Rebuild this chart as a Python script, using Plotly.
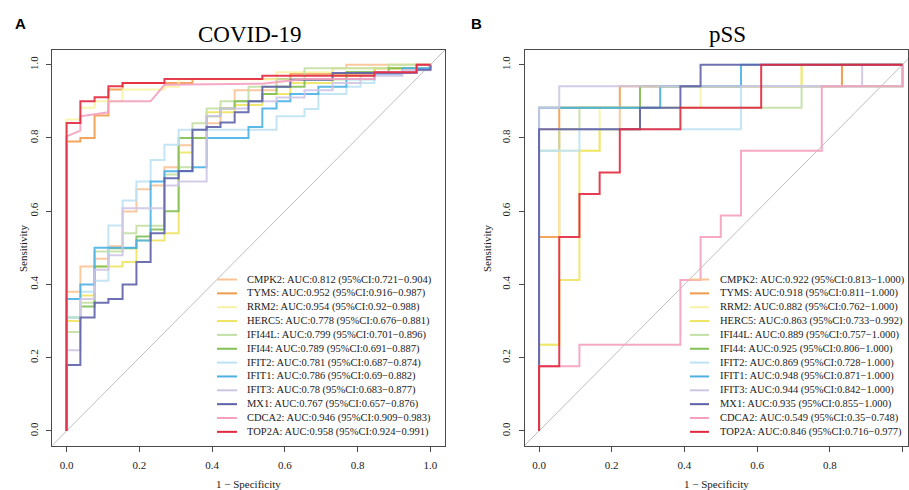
import plotly.graph_objects as go

# ---------------- data ----------------
genes = ["CMPK2", "TYMS", "RRM2", "HERC5", "IFI44L", "IFI44",
         "IFIT2", "IFIT1", "IFIT3", "MX1", "CDCA2", "TOP2A"]
colors = ["#F9C396", "#F29B4C", "#F7F3A6", "#EEE463", "#C4DFA4", "#82C057",
          "#BCE2F3", "#4BB1E5", "#CEC5E4", "#5E62A8", "#F4A0BE", "#E2283F"]

auc_covid = ["AUC:0.812 (95%CI:0.721\u22120.904)", "AUC:0.952 (95%CI:0.916\u22120.987)",
             "AUC:0.954 (95%CI:0.92\u22120.988)", "AUC:0.778 (95%CI:0.676\u22120.881)",
             "AUC:0.799 (95%CI:0.701\u22120.896)", "AUC:0.789 (95%CI:0.691\u22120.887)",
             "AUC:0.781 (95%CI:0.687\u22120.874)", "AUC:0.786 (95%CI:0.69\u22120.882)",
             "AUC:0.78 (95%CI:0.683\u22120.877)", "AUC:0.767 (95%CI:0.657\u22120.876)",
             "AUC:0.946 (95%CI:0.909\u22120.983)", "AUC:0.958 (95%CI:0.924\u22120.991)"]
auc_pss = ["AUC:0.922 (95%CI:0.813\u22121.000)", "AUC:0.918 (95%CI:0.811\u22121.000)",
           "AUC:0.882 (95%CI:0.762\u22121.000)", "AUC:0.863 (95%CI:0.733\u22120.992)",
           "AUC:0.889 (95%CI:0.757\u22121.000)", "AUC:0.925 (95%CI:0.806\u22121.000)",
           "AUC:0.869 (95%CI:0.728\u22121.000)", "AUC:0.948 (95%CI:0.871\u22121.000)",
           "AUC:0.944 (95%CI:0.842\u22121.000)", "AUC:0.935 (95%CI:0.855\u22121.000)",
           "AUC:0.549 (95%CI:0.35\u22120.748)", "AUC:0.846 (95%CI:0.716\u22120.977)"]

tick_vals = [0, 0.2, 0.4, 0.6, 0.8, 1.0]
tick_text = ["0.0", "0.2", "0.4", "0.6", "0.8", "1.0"]

# COVID-19 ROC points (1-specificity, sensitivity); step curves
covid_CMPK2_fpr = [0, 0.038, 0.077, 0.115, 0.154, 0.192, 0.231, 0.269, 0.308, 0.346, 0.385, 0.423, 0.462, 0.577, 0.731, 0.769, 1]
covid_CMPK2_tpr = [0, 0.38, 0.449, 0.47, 0.504, 0.599, 0.66, 0.67, 0.72, 0.78, 0.80, 0.84, 0.88, 0.93, 0.96, 0.99, 1]
covid_TYMS_fpr = [0, 0.038, 0.077, 0.115, 0.154, 0.346, 0.615, 0.846, 0.962, 1]
covid_TYMS_tpr = [0, 0.79, 0.80, 0.861, 0.932, 0.95, 0.961, 0.975, 0.99, 1]
covid_RRM2_fpr = [0, 0.038, 0.077, 0.154, 0.269, 0.308, 0.577, 0.731, 0.885, 1]
covid_RRM2_tpr = [0, 0.85, 0.882, 0.90, 0.932, 0.94, 0.96, 0.979, 0.99, 1]
covid_HERC5_fpr = [0, 0.038, 0.077, 0.154, 0.192, 0.269, 0.308, 0.346, 0.385, 0.462, 0.538, 0.615, 0.731, 0.846, 1, 1]
covid_HERC5_tpr = [0, 0.30, 0.37, 0.449, 0.461, 0.52, 0.54, 0.76, 0.80, 0.87, 0.89, 0.92, 0.95, 0.97, 0.99, 1]
covid_IFI44L_fpr = [0, 0.038, 0.077, 0.154, 0.192, 0.269, 0.308, 0.346, 0.385, 0.423, 0.5, 0.577, 0.654, 0.885, 1]
covid_IFI44L_tpr = [0, 0.27, 0.35, 0.49, 0.54, 0.56, 0.70, 0.72, 0.84, 0.88, 0.90, 0.94, 0.96, 0.99, 1]
covid_IFI44_fpr = [0, 0.038, 0.077, 0.115, 0.192, 0.231, 0.269, 0.308, 0.385, 0.423, 0.462, 0.538, 0.577, 0.654, 0.769, 0.885, 1, 1]
covid_IFI44_tpr = [0, 0.31, 0.34, 0.449, 0.499, 0.531, 0.55, 0.60, 0.80, 0.859, 0.88, 0.90, 0.92, 0.94, 0.96, 0.98, 0.99, 1]
covid_IFIT2_fpr = [0, 0.038, 0.077, 0.115, 0.154, 0.192, 0.231, 0.269, 0.308, 0.577, 0.654, 0.692, 0.769, 0.808, 0.846, 0.962, 1, 1]
covid_IFIT2_tpr = [0, 0.31, 0.38, 0.41, 0.561, 0.629, 0.681, 0.74, 0.781, 0.822, 0.859, 0.879, 0.92, 0.94, 0.95, 0.98, 0.99, 1]
covid_IFIT1_fpr = [0, 0.038, 0.077, 0.192, 0.231, 0.269, 0.346, 0.385, 0.5, 0.538, 0.577, 0.615, 0.692, 0.769, 0.846, 0.923, 1, 1]
covid_IFIT1_tpr = [0, 0.36, 0.40, 0.50, 0.52, 0.681, 0.709, 0.72, 0.80, 0.83, 0.88, 0.90, 0.92, 0.94, 0.96, 0.975, 0.99, 1]
covid_IFIT3_fpr = [0, 0.038, 0.077, 0.115, 0.154, 0.269, 0.308, 0.385, 0.423, 0.5, 0.577, 0.654, 0.731, 0.808, 0.923, 1, 1]
covid_IFIT3_tpr = [0, 0.22, 0.36, 0.44, 0.48, 0.608, 0.67, 0.681, 0.86, 0.88, 0.90, 0.91, 0.93, 0.95, 0.97, 0.985, 1]
covid_MX1_fpr = [0, 0.038, 0.077, 0.115, 0.154, 0.192, 0.231, 0.269, 0.308, 0.346, 0.385, 0.423, 0.462, 0.5, 0.538, 0.615, 0.731, 0.962, 1, 1]
covid_MX1_tpr = [0, 0.18, 0.31, 0.35, 0.36, 0.40, 0.461, 0.54, 0.69, 0.71, 0.822, 0.83, 0.842, 0.87, 0.90, 0.94, 0.959, 0.977, 0.986, 1]
# CDCA2 has tied values -> drawn as polyline through its ROC vertices
covid_CDCA2_fpr = [0, 0, 0.038, 0.038, 0.115, 0.115, 0.231, 0.269, 0.538, 0.654, 0.846, 0.846, 0.962, 0.962, 1]
covid_CDCA2_tpr = [0, 0.804, 0.82, 0.859, 0.87, 0.90, 0.90, 0.945, 0.948, 0.961, 0.961, 0.979, 0.979, 1, 1]
covid_TOP2A_fpr = [0, 0.038, 0.077, 0.115, 0.154, 0.269, 0.538, 0.846, 0.962, 1]
covid_TOP2A_tpr = [0, 0.841, 0.90, 0.911, 0.941, 0.95, 0.961, 0.97, 0.979, 1]

# pSS ROC points (18 controls, 17 cases)
pss_CMPK2_fpr = [0, 0.2222, 0.2778, 0.8333, 1]
pss_CMPK2_tpr = [0, 0.8235, 0.8824, 0.9412, 1]
pss_TYMS_fpr = [0, 0.0556, 0.2222, 0.8333, 1]
pss_TYMS_tpr = [0, 0.5294, 0.8824, 0.9412, 1]
pss_RRM2_fpr = [0, 0.0556, 0.1667, 0.4444, 0.7222, 1]
pss_RRM2_tpr = [0, 0.2353, 0.7647, 0.8824, 0.9412, 1]
pss_HERC5_fpr = [0, 0.0556, 0.1111, 0.1667, 0.2778, 0.3333, 0.7222, 1]
pss_HERC5_tpr = [0, 0.2353, 0.4118, 0.7647, 0.8235, 0.8824, 0.9412, 1]
pss_IFI44L_fpr = [0, 0.0556, 0.1111, 0.7222, 1, 1]
pss_IFI44L_tpr = [0, 0.7647, 0.8235, 0.8824, 0.9412, 1]
pss_IFI44_fpr = [0, 0.2778, 1, 1]
pss_IFI44_tpr = [0, 0.8824, 0.9412, 1]
pss_IFIT2_fpr = [0, 0.1111, 0.5556, 1, 1]
pss_IFIT2_tpr = [0, 0.7647, 0.8235, 0.9412, 1]
pss_IFIT1_fpr = [0, 0.3333, 0.5556, 1]
pss_IFIT1_tpr = [0, 0.8824, 0.9412, 1]
pss_IFIT3_fpr = [0, 0.0556, 0.8889, 1]
pss_IFIT3_tpr = [0, 0.8824, 0.9412, 1]
pss_MX1_fpr = [0, 0.2778, 0.3889, 0.4444, 1]
pss_MX1_tpr = [0, 0.8235, 0.8824, 0.9412, 1]
pss_CDCA2_fpr = [0, 0.1111, 0.3889, 0.4444, 0.5, 0.5556, 0.7778, 1, 1]
pss_CDCA2_tpr = [0, 0.1765, 0.2353, 0.4118, 0.5294, 0.5882, 0.7647, 0.9412, 1]
pss_TOP2A_fpr = [0, 0.0556, 0.1111, 0.1667, 0.2222, 0.3889, 0.6111, 1]
pss_TOP2A_tpr = [0, 0.1765, 0.5294, 0.6471, 0.7059, 0.8235, 0.8824, 1]

covid_curves = {
    "CMPK2": (covid_CMPK2_fpr, covid_CMPK2_tpr), "TYMS": (covid_TYMS_fpr, covid_TYMS_tpr),
    "RRM2": (covid_RRM2_fpr, covid_RRM2_tpr), "HERC5": (covid_HERC5_fpr, covid_HERC5_tpr),
    "IFI44L": (covid_IFI44L_fpr, covid_IFI44L_tpr), "IFI44": (covid_IFI44_fpr, covid_IFI44_tpr),
    "IFIT2": (covid_IFIT2_fpr, covid_IFIT2_tpr), "IFIT1": (covid_IFIT1_fpr, covid_IFIT1_tpr),
    "IFIT3": (covid_IFIT3_fpr, covid_IFIT3_tpr), "MX1": (covid_MX1_fpr, covid_MX1_tpr),
    "CDCA2": (covid_CDCA2_fpr, covid_CDCA2_tpr), "TOP2A": (covid_TOP2A_fpr, covid_TOP2A_tpr),
}
pss_curves = {
    "CMPK2": (pss_CMPK2_fpr, pss_CMPK2_tpr), "TYMS": (pss_TYMS_fpr, pss_TYMS_tpr),
    "RRM2": (pss_RRM2_fpr, pss_RRM2_tpr), "HERC5": (pss_HERC5_fpr, pss_HERC5_tpr),
    "IFI44L": (pss_IFI44L_fpr, pss_IFI44L_tpr), "IFI44": (pss_IFI44_fpr, pss_IFI44_tpr),
    "IFIT2": (pss_IFIT2_fpr, pss_IFIT2_tpr), "IFIT1": (pss_IFIT1_fpr, pss_IFIT1_tpr),
    "IFIT3": (pss_IFIT3_fpr, pss_IFIT3_tpr), "MX1": (pss_MX1_fpr, pss_MX1_tpr),
    "CDCA2": (pss_CDCA2_fpr, pss_CDCA2_tpr), "TOP2A": (pss_TOP2A_fpr, pss_TOP2A_tpr),
}

# ---------------- layout geometry ----------------
W, H = 909, 490
SERIF = "Liberation Serif, Times New Roman, serif"
SANS = "Liberation Sans, Arial, sans-serif"
TXT = "#1a1a1a"
AX = "#4a4a4a"


def fx(px):
    return px / W


def fy(py):
    return 1 - py / H


fig = go.Figure()

for panel, curves, xa, ya in [("covid", covid_curves, "x", "y"), ("pss", pss_curves, "x2", "y2")]:
    for g, c in zip(genes, colors):
        xs, ys = curves[g]
        shape = "linear" if (panel == "covid" and g == "CDCA2") else "vh"
        fig.add_trace(go.Scatter(x=xs, y=ys, mode="lines", xaxis=xa, yaxis=ya,
                                 line=dict(color=c, width=2, shape=shape),
                                 opacity=0.9, showlegend=False, hoverinfo="skip"))

axis_common = dict(showgrid=False, zeroline=False, showline=True, mirror=True,
                   linecolor=AX, linewidth=1, ticks="outside", ticklen=5,
                   tickcolor=AX, tickwidth=1, tickvals=tick_vals, ticktext=tick_text,
                   tickfont=dict(family=SERIF, size=11, color=TXT), automargin=False)

yA = [fy(445.6), fy(50)]
fig.update_layout(
    width=W, height=H, margin=dict(l=0, r=0, t=0, b=0, pad=0),
    paper_bgcolor="white", plot_bgcolor="white", showlegend=False,
    xaxis=dict(domain=[fx(52), fx(445)], range=[-0.04, 1.04], anchor="y",
               ticklabelstandoff=4, **axis_common),
    yaxis=dict(domain=yA, range=[-0.04, 1.04], anchor="x", tickangle=-90,
               ticklabelstandoff=4, **axis_common),
    xaxis2=dict(domain=[fx(524.5), fx(908)], range=[-0.04, 1.015], anchor="y2",
                ticklabelstandoff=4, **axis_common),
    yaxis2=dict(domain=yA, range=[-0.04, 1.04], anchor="x2", tickangle=-90,
                ticklabelstandoff=4, **axis_common),
)

shapes = []
annotations = []
# reference diagonals
shapes.append(dict(type="line", xref="x", yref="y", x0=-0.04, y0=-0.04, x1=1.04, y1=1.04,
                   line=dict(color="#BDBDBD", width=1), layer="below"))
shapes.append(dict(type="line", xref="x2", yref="y2", x0=-0.04, y0=-0.04, x1=1.015, y1=1.015,
                   line=dict(color="#BDBDBD", width=1), layer="below"))

# legends (drawn manually to reproduce the compact R legend)
for (lx0, lx1, tx, labels) in [(217, 237, 246, auc_covid), (690, 709, 719, auc_pss)]:
    for i, (g, c, lab) in enumerate(zip(genes, colors, labels)):
        py = 279.5 + i * 13.85
        shapes.append(dict(type="line", xref="paper", yref="paper",
                           x0=fx(lx0), x1=fx(lx1), y0=fy(py), y1=fy(py),
                           line=dict(color=c, width=2)))
        annotations.append(dict(x=fx(tx), y=fy(py), xref="paper", yref="paper",
                                text=f"{g}: {lab}", showarrow=False, xanchor="left",
                                yanchor="middle", borderpad=0,
                                font=dict(family=SERIF, size=10.5, color=TXT)))


def paper_text(px, py, text, size, family=SERIF, angle=0, color=TXT):
    return dict(x=fx(px), y=fy(py), xref="paper", yref="paper", text=text,
                showarrow=False, xanchor="center", yanchor="middle", textangle=angle,
                font=dict(family=family, size=size, color=color))


annotations += [
    paper_text(250, 35, "COVID-19", 23, color="#000"),
    paper_text(727, 35, "pSS", 23, color="#000"),
    paper_text(20, 23, "<b>A</b>", 15, family=SANS, color="#000"),
    paper_text(476, 23, "<b>B</b>", 15, family=SANS, color="#000"),
    paper_text(248.5, 484, "1 \u2212 Specificity", 11),
    paper_text(716, 484, "1 \u2212 Specificity", 11),
    paper_text(23, 248, "Sensitivity", 11, angle=-90),
    paper_text(487, 248, "Sensitivity", 11, angle=-90),
]

fig.update_layout(shapes=shapes, annotations=annotations)
fig.write_html("out.html", config={"displayModeBar": False, "staticPlot": True},
               post_script="document.body.style.margin='0';document.body.style.padding='0';")
